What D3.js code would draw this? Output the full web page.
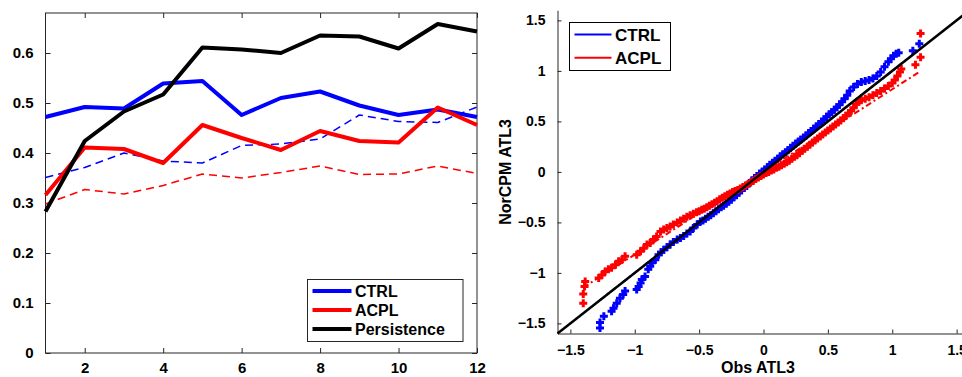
<!DOCTYPE html>
<html>
<head>
<meta charset="utf-8">
<script src="https://cdn.jsdelivr.net/npm/d3@7/dist/d3.min.js"></script>
<style>
  html, body { margin: 0; padding: 0; background: #fff; }
  svg { display: block; }
  text { font-family: "Liberation Sans", Arial, Helvetica, sans-serif; font-weight: bold; fill: #000; }
</style>
</head>
<body>
<svg id="chart" width="962" height="377"></svg>
<script>
// ---------------- Left panel data ----------------
const leadMonths = [1, 2, 3, 4, 5, 6, 7, 8, 9, 10, 11, 12];
const ctrlSkill = [0.472, 0.492, 0.489, 0.539, 0.544, 0.476, 0.510, 0.523, 0.495, 0.476, 0.487, 0.472];
const acplSkill = [0.316, 0.411, 0.408, 0.380, 0.456, 0.430, 0.406, 0.444, 0.424, 0.421, 0.491, 0.456];
const persistenceSkill = [0.283, 0.424, 0.483, 0.517, 0.611, 0.607, 0.600, 0.635, 0.633, 0.609, 0.658, 0.643];
const ctrlDashed = [0.351, 0.371, 0.400, 0.384, 0.380, 0.415, 0.418, 0.428, 0.476, 0.463, 0.461, 0.492];
const acplDashed = [0.298, 0.327, 0.318, 0.335, 0.358, 0.350, 0.361, 0.374, 0.357, 0.358, 0.374, 0.359];
const leftYTicks = [0, 0.1, 0.2, 0.3, 0.4, 0.5, 0.6];
const leftXTicks = [2, 4, 6, 8, 10, 12];
const leftLegend = ["CTRL", "ACPL", "Persistence"];

// ---------------- Right panel data (Q-Q: [obs quantile, model quantile]) ----------------
const ctrlQQ = [
  [-1.27,-1.545],[-1.27,-1.49],[-1.24,-1.43],[-1.18,-1.38],[-1.165,-1.35],[-1.14,-1.30],[-1.115,-1.25],[-1.09,-1.215],[-1.075,-1.18],
  [-0.985,-1.165],[-0.97,-1.135],[-0.955,-1.10],[-0.945,-1.065],[-0.92,-1.035],[-0.895,-0.965],[-0.88,-0.935],[-0.865,-0.90],
  [-0.84,-0.87],[-0.815,-0.82],[-0.795,-0.795],[-0.775,-0.77],[-0.75,-0.745],[-0.725,-0.72],[-0.70,-0.695],[-0.67,-0.67],
  [-0.645,-0.655],[-0.62,-0.635],[-0.595,-0.61],[-0.57,-0.59],[-0.545,-0.555],[-0.515,-0.52],[-0.49,-0.49],
  [-0.47,-0.48],[-0.45,-0.465],[-0.43,-0.445],[-0.41,-0.43],[-0.39,-0.41],[-0.37,-0.39],[-0.35,-0.37],[-0.33,-0.35],
  [-0.31,-0.335],[-0.29,-0.315],[-0.27,-0.295],[-0.25,-0.275],[-0.23,-0.25],[-0.21,-0.23],[-0.19,-0.205],[-0.17,-0.185],
  [-0.15,-0.16],[-0.13,-0.14],[-0.11,-0.11],[-0.09,-0.085],[-0.07,-0.06],[-0.05,-0.04],[-0.03,-0.015],[-0.01,0.005],
  [0.01,0.025],[0.03,0.045],[0.05,0.07],[0.07,0.09],[0.09,0.11],[0.11,0.13],[0.13,0.155],[0.15,0.175],[0.17,0.195],
  [0.19,0.215],[0.21,0.24],[0.23,0.26],[0.25,0.28],[0.27,0.30],[0.29,0.32],[0.31,0.34],[0.33,0.36],[0.35,0.385],
  [0.37,0.405],[0.39,0.43],[0.41,0.45],[0.43,0.475],[0.45,0.50],[0.47,0.52],[0.49,0.545],[0.51,0.57],[0.53,0.59],
  [0.55,0.615],[0.57,0.64],[0.59,0.665],[0.61,0.695],[0.63,0.725],[0.65,0.76],[0.67,0.80],[0.70,0.84],[0.73,0.87],
  [0.76,0.89],[0.79,0.90],[0.82,0.91],[0.85,0.925],[0.88,0.95],[0.91,0.99],[0.94,1.04],[0.97,1.09],[0.99,1.12],
  [1.01,1.15],[1.03,1.17],[1.05,1.18],[1.16,1.20],[1.21,1.27]
];
const acplQQ = [
  [-1.40,-1.30],[-1.40,-1.21],[-1.39,-1.135],[-1.385,-1.085],[-1.28,-1.05],[-1.255,-1.02],[-1.23,-0.985],[-1.205,-0.965],
  [-1.18,-0.95],[-1.15,-0.92],[-1.125,-0.885],[-1.10,-0.87],[-1.075,-0.835],
  [-0.985,-0.82],[-0.955,-0.785],[-0.93,-0.755],[-0.905,-0.72],[-0.88,-0.705],[-0.855,-0.67],[-0.83,-0.64],[-0.80,-0.59],
  [-0.775,-0.57],[-0.75,-0.555],[-0.725,-0.54],[-0.70,-0.52],[-0.67,-0.50],[-0.645,-0.48],[-0.62,-0.465],[-0.595,-0.445],
  [-0.57,-0.43],[-0.545,-0.415],[-0.52,-0.40],
  [-0.50,-0.39],[-0.48,-0.375],[-0.46,-0.365],[-0.44,-0.35],[-0.42,-0.335],[-0.40,-0.32],[-0.38,-0.305],[-0.36,-0.29],
  [-0.34,-0.27],[-0.32,-0.255],[-0.30,-0.24],[-0.28,-0.225],[-0.26,-0.215],[-0.24,-0.20],[-0.22,-0.19],[-0.20,-0.18],
  [-0.18,-0.165],[-0.16,-0.15],[-0.14,-0.135],[-0.12,-0.12],[-0.10,-0.105],[-0.08,-0.09],[-0.06,-0.07],[-0.04,-0.055],
  [-0.02,-0.04],[0.00,-0.025],[0.02,-0.01],[0.04,0.00],[0.06,0.015],[0.08,0.025],[0.10,0.04],[0.12,0.05],[0.14,0.065],
  [0.16,0.08],[0.18,0.095],[0.20,0.11],[0.22,0.13],[0.24,0.15],[0.26,0.165],[0.28,0.185],[0.30,0.21],[0.32,0.23],
  [0.34,0.25],[0.36,0.27],[0.38,0.29],[0.40,0.31],[0.42,0.33],[0.44,0.35],[0.46,0.37],[0.48,0.39],[0.50,0.41],
  [0.52,0.43],[0.54,0.45],[0.56,0.47],[0.58,0.49],[0.60,0.51],[0.62,0.53],[0.64,0.555],[0.66,0.58],[0.68,0.605],
  [0.70,0.635],[0.72,0.67],[0.74,0.695],[0.76,0.71],[0.79,0.725],[0.82,0.74],[0.85,0.76],[0.88,0.78],[0.91,0.80],
  [0.94,0.825],[0.97,0.85],[1.00,0.88],[1.02,0.91],[1.04,0.95],[1.06,0.99],[1.07,1.02],
  [1.18,1.06],[1.22,1.135],[1.22,1.37]
];
const ctrlRefLine = [[-1.27, -1.27], [1.21, 1.21]];
const acplRefLine = [[-1.40, -1.145], [1.22, 0.998]];
const identityLine = [[-1.6, -1.6], [1.6, 1.6]];
const rightTicks = [-1.5, -1, -0.5, 0, 0.5, 1, 1.5];
const rightLegend = ["CTRL", "ACPL"];

const colors = { CTRL: "#0000ff", ACPL: "#ff0000", Persistence: "#000000" };
const axisColor = "#262626";

const svg = d3.select("#chart");

// ================= LEFT PANEL =================
const lx = d3.scaleLinear().domain([1, 12]).range([45.5, 477]);
const ly = d3.scaleLinear().domain([0, 0.68]).range([353, 13]);
const left = svg.append("g");

function styleAxis(g, fs) {
  g.select(".domain").remove();
  g.selectAll(".tick line").attr("stroke", axisColor).attr("stroke-width", 1);
  g.selectAll(".tick text").attr("font-size", fs).attr("font-family", "Liberation Sans, Arial, sans-serif")
    .attr("font-weight", "bold").attr("fill", "#000");
  g.attr("font-family", null).attr("font-size", null);
}

// ticks (inward) on all 4 sides
left.append("g").attr("transform", `translate(0,${ly(0)})`)
  .call(d3.axisBottom(lx).tickValues(leftXTicks).tickFormat(d3.format("d")).tickSizeInner(-5).tickSizeOuter(0).tickPadding(9.5))
  .call(g => styleAxis(g, 15));
left.append("g").attr("transform", `translate(0,${ly(0.68)})`)
  .call(d3.axisTop(lx).tickValues(leftXTicks).tickFormat("").tickSizeInner(-5).tickSizeOuter(0))
  .call(g => styleAxis(g, 15));
left.append("g").attr("transform", `translate(${lx(1)},0)`)
  .call(d3.axisLeft(ly).tickValues(leftYTicks).tickFormat(d => d === 0 ? "0" : d3.format(".1f")(d)).tickSizeInner(-5).tickSizeOuter(0).tickPadding(12))
  .call(g => styleAxis(g, 15));
left.append("g").attr("transform", `translate(${lx(12)},0)`)
  .call(d3.axisRight(ly).tickValues(leftYTicks).tickFormat("").tickSizeInner(-5).tickSizeOuter(0))
  .call(g => styleAxis(g, 15));

left.append("rect")
  .attr("x", lx(1)).attr("y", ly(0.68))
  .attr("width", lx(12) - lx(1)).attr("height", ly(0) - ly(0.68))
  .attr("fill", "none").attr("stroke", axisColor).attr("stroke-width", 1);

const lineL = d3.line().x((d, i) => lx(leadMonths[i])).y(d => ly(d));
const lineLs = [
  { v: acplDashed, c: colors.ACPL, w: 1.5, dash: "8,5" },
  { v: ctrlDashed, c: colors.CTRL, w: 1.5, dash: "8,5" },
  { v: ctrlSkill, c: colors.CTRL, w: 4, dash: null },
  { v: acplSkill, c: colors.ACPL, w: 4, dash: null },
  { v: persistenceSkill, c: colors.Persistence, w: 4, dash: null }
];
left.selectAll("path.series").data(lineLs).join("path")
  .attr("class", "series")
  .attr("d", d => lineL(d.v))
  .attr("fill", "none")
  .attr("stroke", d => d.c)
  .attr("stroke-width", d => d.w)
  .attr("stroke-linejoin", "round")
  .attr("stroke-dasharray", d => d.dash);

// left legend
const lleg = left.append("g").attr("transform", "translate(307.5,279.5)");
lleg.append("rect").attr("width", 155.5).attr("height", 62).attr("fill", "#fff")
  .attr("stroke", axisColor).attr("stroke-width", 1);
const llRows = lleg.selectAll("g.row").data(leftLegend).join("g")
  .attr("class", "row").attr("transform", (d, i) => `translate(0,${11.5 + i * 19})`);
llRows.append("line").attr("x1", 5).attr("x2", 44).attr("y1", 0).attr("y2", 0)
  .attr("stroke", d => colors[d]).attr("stroke-width", 4);
llRows.append("text").attr("x", 47.5).attr("y", 0).attr("dy", "0.36em")
  .attr("font-size", 16).text(d => d);

// ================= RIGHT PANEL =================
const rx = d3.scaleLinear().domain([-1.6, 1.6]).range([557.5, 969.5]);
const ry = d3.scaleLinear().domain([-1.6, 1.6]).range([333.5, 10.3]);
const right = svg.append("g");

right.append("g").attr("transform", `translate(0,${ry(-1.6)})`)
  .call(d3.axisBottom(rx).tickValues(rightTicks).tickFormat(d => d3.format("")(d)).tickSizeInner(-4).tickSizeOuter(0).tickPadding(12))
  .call(g => {
    g.selectAll(".tick line").attr("stroke", axisColor);
    g.select(".domain").attr("stroke", axisColor).attr("stroke-width", 1);
    g.selectAll(".tick text").attr("font-size", 14).attr("font-weight", "bold").attr("fill", "#000")
      .attr("font-family", "Liberation Sans, Arial, sans-serif");
    g.attr("font-family", null).attr("font-size", null);
  });
right.append("g").attr("transform", `translate(${rx(-1.6)},0)`)
  .call(d3.axisLeft(ry).tickValues(rightTicks).tickFormat(d => d3.format("")(d)).tickSizeInner(-4).tickSizeOuter(0).tickPadding(12))
  .call(g => {
    g.selectAll(".tick line").attr("stroke", axisColor);
    g.select(".domain").attr("stroke", axisColor).attr("stroke-width", 1);
    g.selectAll(".tick text").attr("font-size", 14).attr("font-weight", "bold").attr("fill", "#000")
      .attr("font-family", "Liberation Sans, Arial, sans-serif");
    g.attr("font-family", null).attr("font-size", null);
  });

// axis titles
right.append("text").attr("x", 758).attr("y", 372.5).attr("text-anchor", "middle")
  .attr("font-size", 16).text("Obs ATL3");
right.append("text").attr("transform", `translate(511,${ry(0)}) rotate(-90)`)
  .attr("text-anchor", "middle").attr("font-size", 16).text("NorCPM ATL3");

const lineR = d3.line().x(d => rx(d[0])).y(d => ry(d[1]));
const plusPath = "M-4,0H4M0,-4V4";

function drawQQ(data, color) {
  right.append("g").selectAll("path").data(data).join("path")
    .attr("transform", d => `translate(${rx(d[0])},${ry(d[1])})`)
    .attr("d", plusPath)
    .attr("stroke", color).attr("stroke-width", 3).attr("fill", "none");
}
right.append("path").attr("d", lineR(ctrlRefLine)).attr("stroke", colors.CTRL)
  .attr("stroke-width", 2).attr("stroke-dasharray", "6,3,2,3").attr("fill", "none");
drawQQ(ctrlQQ, colors.CTRL);
drawQQ(acplQQ, colors.ACPL);
right.append("path").attr("d", lineR(acplRefLine)).attr("stroke", colors.ACPL)
  .attr("stroke-width", 2).attr("stroke-dasharray", "6,3,2,3").attr("fill", "none");
right.append("path").attr("d", lineR(identityLine)).attr("stroke", "#000")
  .attr("stroke-width", 2.5).attr("fill", "none");

// right legend
const rleg = right.append("g").attr("transform", "translate(569.5,22.5)");
rleg.append("rect").attr("width", 101).attr("height", 48).attr("fill", "#fff")
  .attr("stroke", "#000").attr("stroke-width", 1);
const rlRows = rleg.selectAll("g.row").data(rightLegend).join("g")
  .attr("class", "row").attr("transform", (d, i) => `translate(0,${12 + i * 23.3})`);
rlRows.append("line").attr("x1", 5).attr("x2", 42).attr("y1", 0).attr("y2", 0)
  .attr("stroke", d => colors[d]).attr("stroke-width", 2);
rlRows.append("text").attr("x", 45.5).attr("y", 0).attr("dy", "0.36em")
  .attr("font-size", 17).text(d => d);
</script>
</body>
</html>
